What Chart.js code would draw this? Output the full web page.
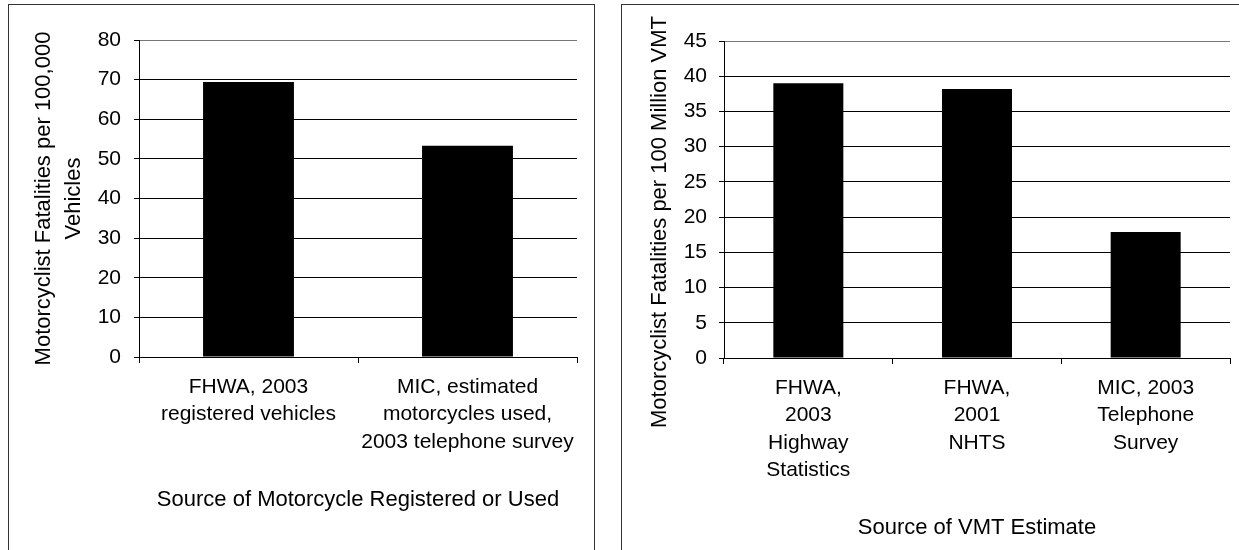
<!DOCTYPE html>
<html>
<head>
<meta charset="utf-8">
<script src="https://cdn.jsdelivr.net/npm/chart.js@4.4.1/dist/chart.umd.min.js"></script>
<style>
  body { margin: 0; background: #fff; width: 1239px; height: 550px; overflow: hidden; position: relative; }
  .frame { position: absolute; border: 1px solid #333; box-sizing: border-box; }
  .box { position: absolute; top: 0; height: 550px; }
</style>
</head>
<body>
<div class="frame" style="left:8px; top:4px; width:587px; height:600px;"></div>
<div class="frame" style="left:621px; top:4px; width:640px; height:600px;"></div>
<div class="box" style="left:0; width:600px;"><canvas id="leftChart"></canvas></div>
<div class="box" style="left:615px; width:624px;"><canvas id="rightChart"></canvas></div>
<script>
// left chart: fatalities per 100,000 vehicles
const vehicleSources = [
  ['FHWA, 2003', 'registered vehicles'],
  ['MIC, estimated', 'motorcycles used,', '2003 telephone survey']
];
const vehicleRates = [69.4, 53.3];

// right chart: fatalities per 100 million VMT
const vmtSources = [
  ['FHWA,', '2003', 'Highway', 'Statistics'],
  ['FHWA,', '2001', 'NHTS'],
  ['MIC, 2003', 'Telephone', 'Survey']
];
const vmtRates = [39.0, 38.2, 17.9];

const FONT = "'Liberation Sans', Arial, sans-serif";
Chart.defaults.font.family = FONT;
Chart.defaults.font.size = 21;
Chart.defaults.color = '#000';

function makeChart(id, labels, values, opts) {
  const ctx = document.getElementById(id).getContext('2d');
  return new Chart(ctx, {
    type: 'bar',
    data: {
      labels: labels,
      datasets: [{
        data: values,
        backgroundColor: '#000',
        borderWidth: 0,
        barPercentage: 0.415,
        categoryPercentage: 1
      }]
    },
    options: {
      responsive: true,
      maintainAspectRatio: false,
      animation: false,
      events: [],
      layout: { padding: { left: 0, right: opts.padRight, top: opts.padTop, bottom: 0 } },
      plugins: { legend: { display: false }, tooltip: { enabled: false } },
      scales: {
        x: {
          afterFit: function (scale) { scale.height = opts.xHeight; },
          grid: {
            offset: true,
            color: function (c) { return c.index === labels.length ? '#777' : 'rgba(0,0,0,0)'; },
            tickColor: '#000',
            tickLength: 6,
            drawTicks: true
          },
          border: { display: true, color: '#000', width: 1 },
          ticks: { padding: opts.labelPad, maxRotation: 0, font: { size: 21, lineHeight: 27.5 / 21 } },
          title: {
            display: true,
            text: opts.xTitle,
            font: { size: 22 },
            padding: { top: 0, bottom: opts.xTitlePad }
          }
        },
        y: {
          min: 0,
          max: opts.max,
          afterFit: function (scale) { scale.width = opts.yWidth; },
          grid: {
            color: function (c) { return c.tick && c.tick.value === opts.max ? '#777' : '#000'; },
            tickColor: '#000',
            tickLength: 5
          },
          border: { display: true, color: '#000', width: 1 },
          ticks: { stepSize: opts.step, padding: opts.tickPad, font: { size: 21 } },
          title: opts.yTitle ? {
            display: true,
            text: opts.yTitle,
            font: { size: 22, lineHeight: 30 / 22 },
            padding: { top: 29, bottom: 0 }
          } : { display: false }
        }
      }
    },
    plugins: opts.plugins || []
  });
}

makeChart('leftChart', vehicleSources, vehicleRates, {
  max: 80, step: 10,
  padRight: 23, padTop: 40, xHeight: 193, yWidth: 139,
  labelPad: 10, tickPad: 13,
  xTitle: 'Source of Motorcycle Registered or Used', xTitlePad: 37,
  yTitle: ['Motorcyclist Fatalities per 100,000', 'Vehicles']
});

// the long single-line axis title sits above the plot middle, drawn by hand
const sideTitle = {
  id: 'sideTitle',
  afterDraw(chart) {
    const c = chart.ctx;
    c.save();
    c.translate(45, 222);
    c.rotate(-Math.PI / 2);
    c.font = '22px ' + FONT;
    c.fillStyle = '#000';
    c.textAlign = 'center';
    c.textBaseline = 'middle';
    c.fillText('Motorcyclist Fatalities per 100 Million VMT', 0, 0);
    c.restore();
  }
};

makeChart('rightChart', vmtSources, vmtRates, {
  max: 45, step: 5,
  padRight: 9, padTop: 41, xHeight: 192, yWidth: 109,
  labelPad: 10, tickPad: 12,
  xTitle: 'Source of VMT Estimate', xTitlePad: 9,
  plugins: [sideTitle]
});
</script>
</body>
</html>
